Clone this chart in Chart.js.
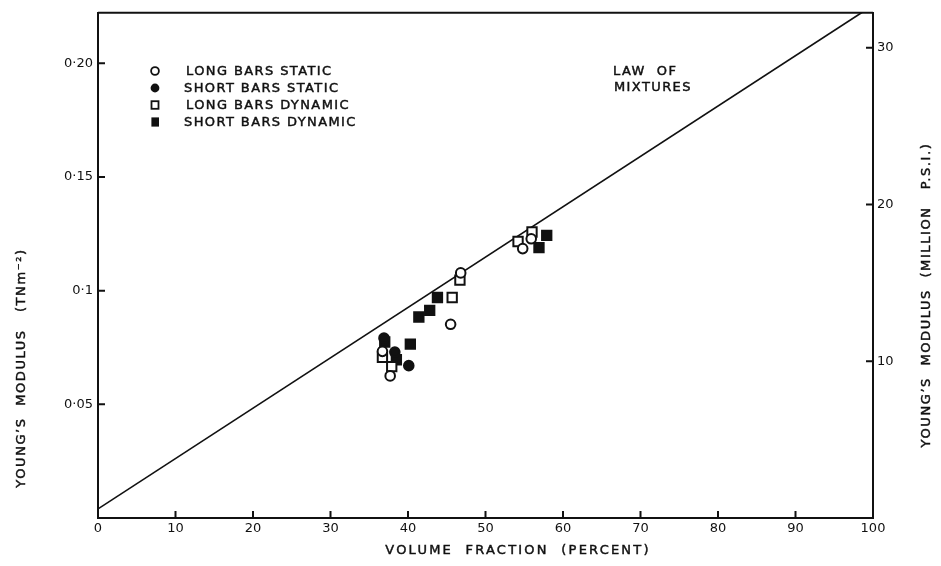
<!DOCTYPE html>
<html>
<head>
<meta charset="utf-8">
<script src="https://cdn.jsdelivr.net/npm/chart.js@4.4.1/dist/chart.umd.min.js"></script>
<style>
  html, body { margin: 0; padding: 0; background: #fff; }
</style>
</head>
<body>
<canvas id="chart" width="941" height="566"></canvas>
<script>
// volume fraction (percent) and Young's modulus (TN/m^2)
const longStaticX = [36.7, 37.7, 45.5, 46.8, 54.8, 55.9];
const longStaticY = [0.0733, 0.0625, 0.0852, 0.1078, 0.1185, 0.1228];
const shortStaticX = [36.9, 38.3, 40.1];
const shortStaticY = [0.0791, 0.0730, 0.0670];
const longDynX = [36.7, 37.9, 45.7, 46.7, 54.2, 56.0];
const longDynY = [0.0707, 0.0666, 0.0970, 0.1046, 0.1216, 0.1258];
const shortDynX = [37.0, 38.5, 40.3, 41.4, 42.8, 43.8, 56.9, 57.9];
const shortDynY = [0.0774, 0.0696, 0.0765, 0.0884, 0.0913, 0.0970, 0.1189, 0.1243];
const lawX = [0, 100];
const lawY = [0.004, 0.2255];

const seriesNames = ['LONG BARS STATIC', 'SHORT BARS STATIC', 'LONG BARS DYNAMIC', 'SHORT BARS DYNAMIC'];
const xTicks = [0, 10, 20, 30, 40, 50, 60, 70, 80, 90, 100];
const yTickLabels = { 0.05: '0·05', 0.1: '0·1', 0.15: '0·15', 0.2: '0·20' };
const psiTicks = [10, 20, 30];

const TN_PER_MPSI = 0.006895;
const Y_MAX = 0.2222;
const INK = '#111';
const FONT = '"DejaVu Sans", sans-serif';

function pts(xs, ys) {
    return xs.map((x, i) => ({ x: x, y: ys[i] }));
}

function marker(style, filled) {
    return {
        type: 'scatter',
        pointStyle: style,
        pointRadius: style === 'rect' ? 6.6 : 4.8,
        pointBorderWidth: 2,
        pointBorderColor: INK,
        pointBackgroundColor: filled ? INK : '#fff',
        showLine: false
    };
}

// text with a little letter spacing and a thin outline, like stencil lettering
function spaced(ctx, text, x, y, spacing) {
    ctx.letterSpacing = spacing + 'px';
    ctx.fillText(text, x, y);
    ctx.lineWidth = 0.45;
    ctx.strokeText(text, x, y);
    ctx.letterSpacing = '0px';
}

const extras = {
    id: 'extras',
    afterDraw(chart) {
        const ctx = chart.ctx;
        const a = chart.chartArea;
        const sx = chart.scales.x, sy = chart.scales.y, s2 = chart.scales.y2;
        ctx.save();
        ctx.strokeStyle = INK;
        ctx.fillStyle = INK;
        ctx.lineWidth = 2;

        // top of the frame
        ctx.beginPath();
        ctx.moveTo(a.left, a.top);
        ctx.lineTo(a.right, a.top);
        ctx.stroke();

        // tick marks pointing into the plot
        ctx.beginPath();
        xTicks.slice(1, -1).forEach(v => {
            const px = sx.getPixelForValue(v);
            ctx.moveTo(px, a.bottom);
            ctx.lineTo(px, a.bottom - 7);
        });
        Object.keys(yTickLabels).forEach(v => {
            const py = sy.getPixelForValue(+v);
            ctx.moveTo(a.left, py);
            ctx.lineTo(a.left + 7, py);
        });
        psiTicks.forEach(v => {
            const py = s2.getPixelForValue(v);
            ctx.moveTo(a.right, py);
            ctx.lineTo(a.right - 7, py);
        });
        ctx.stroke();

        // legend
        const rows = [71, 88, 105, 122];
        const mx = 155;
        ctx.lineWidth = 1.8;
        ctx.beginPath(); ctx.arc(mx, rows[0], 3.9, 0, Math.PI * 2); ctx.stroke();
        ctx.beginPath(); ctx.arc(mx, rows[1], 4.4, 0, Math.PI * 2); ctx.fill();
        ctx.strokeRect(mx - 3.5, rows[2] - 3.8, 7, 7.6);
        ctx.fillRect(mx - 3.6, rows[3] - 4.6, 7.6, 9.2);

        ctx.font = '13px ' + FONT;
        ctx.textBaseline = 'middle';
        ctx.textAlign = 'left';
        seriesNames.forEach((n, i) => spaced(ctx, n, i % 2 ? 184 : 186, rows[i] + 1, 1.4));

        spaced(ctx, 'LAW  OF', 613, 72, 1.4);
        spaced(ctx, 'MIXTURES', 614, 88, 1.4);

        // axis titles
        ctx.textAlign = 'center';
        spaced(ctx, 'VOLUME  FRACTION  (PERCENT)', 518, 551, 2.2);

        ctx.save();
        ctx.translate(22, 368);
        ctx.rotate(-Math.PI / 2);
        spaced(ctx, 'YOUNG\u2019S  MODULUS   (TNm\u207B\u00B2)', 0, 0, 1.6);
        ctx.restore();

        ctx.save();
        ctx.translate(927, 295);
        ctx.rotate(-Math.PI / 2);
        spaced(ctx, 'YOUNG\u2019S  MODULUS  (MILLION   P.S.I.)', 0, 0, 1.6);
        ctx.restore();

        ctx.restore();
    }
};

const border = { display: true, color: INK, width: 2 };
const grid = { display: false, drawTicks: false };
const tickFont = { family: FONT, size: 13 };

new Chart(document.getElementById('chart'), {
    type: 'scatter',
    data: {
        datasets: [
            Object.assign({ label: seriesNames[0], data: pts(longStaticX, longStaticY) }, marker('circle', false)),
            Object.assign({ label: seriesNames[1], data: pts(shortStaticX, shortStaticY) }, marker('circle', true)),
            Object.assign({ label: seriesNames[2], data: pts(longDynX, longDynY) }, marker('rect', false)),
            Object.assign({ label: seriesNames[3], data: pts(shortDynX, shortDynY) }, marker('rect', true)),
            {
                type: 'line',
                label: 'LAW OF MIXTURES',
                data: pts(lawX, lawY),
                borderColor: INK,
                borderWidth: 1.7,
                pointRadius: 0,
                fill: false
            }
        ]
    },
    options: {
        responsive: false,
        animation: false,
        layout: { padding: { top: 9 } },
        plugins: { legend: { display: false }, tooltip: { enabled: false } },
        scales: {
            x: {
                type: 'linear',
                min: 0, max: 100,
                grid: grid,
                border: border,
                afterFit: s => { s.height = 48; },
                afterBuildTicks: s => { s.ticks = xTicks.map(v => ({ value: v })); },
                ticks: { color: INK, font: tickFont, padding: 3, maxRotation: 0 }
            },
            y: {
                type: 'linear',
                min: 0, max: Y_MAX,
                grid: grid,
                border: border,
                afterFit: s => { s.width = 98; },
                afterBuildTicks: s => { s.ticks = Object.keys(yTickLabels).map(v => ({ value: +v })); },
                ticks: { color: INK, font: tickFont, padding: 5, callback: v => yTickLabels[v] || '' }
            },
            y2: {
                type: 'linear',
                position: 'right',
                min: 0, max: Y_MAX / TN_PER_MPSI,
                grid: grid,
                border: border,
                afterFit: s => { s.width = 68; },
                afterBuildTicks: s => { s.ticks = psiTicks.map(v => ({ value: v })); },
                ticks: { color: INK, font: tickFont, padding: 4 }
            }
        }
    },
    plugins: [extras]
});
</script>
</body>
</html>
